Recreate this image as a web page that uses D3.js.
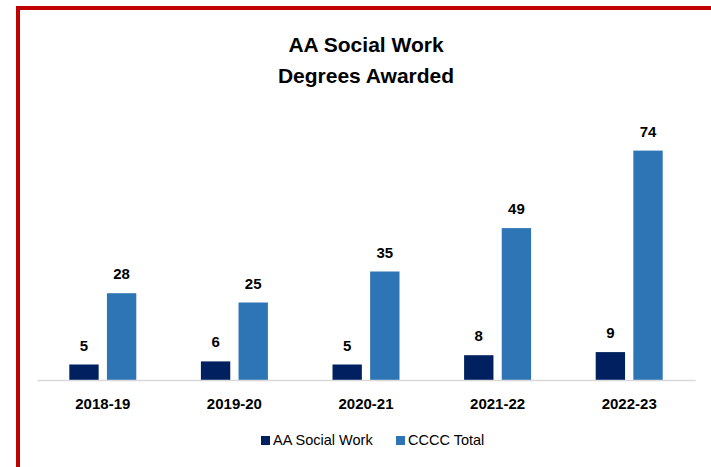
<!DOCTYPE html>
<html>
<head>
<meta charset="utf-8">
<script src="https://cdn.jsdelivr.net/npm/d3@7"></script>
<style>
  body { margin: 0; background: #fff; }
  svg text { font-family: "Liberation Sans", Arial, sans-serif; fill: #000; }
</style>
</head>
<body>
<svg id="chart" width="711" height="467"></svg>
<script>
var years = ["2018-19", "2019-20", "2020-21", "2021-22", "2022-23"];
var series = ["AA Social Work", "CCCC Total"];
var socialWork = [5, 6, 5, 8, 9];
var cccTotal = [28, 25, 35, 49, 74];

var colors = ["#002060", "#2E75B6"];

var data = years.map((y, i) => ({year: y, values: [socialWork[i], cccTotal[i]]}));

var svg = d3.select("#chart"),
    margin = {top: 132, left: 37, bottom: 87, right: 16},
    width = +svg.attr("width"),
    height = +svg.attr("height");

// red frame
svg.append("path")
    .attr("d", `M18,${height} V8 H${width}`)
    .attr("fill", "none")
    .attr("stroke", "#C00000")
    .attr("stroke-width", 4);

// title
var title = svg.append("text")
    .attr("x", 366)
    .attr("text-anchor", "middle")
    .style("font-weight", "bold")
    .style("font-size", "21px");
title.append("tspan").attr("x", 366).attr("y", 52).text("AA Social Work");
title.append("tspan").attr("x", 366).attr("y", 83).text("Degrees Awarded");

var x0 = d3.scaleBand()
    .domain(years)
    .range([margin.left, width - margin.right])
    .paddingInner(0)
    .paddingOuter(0);

var x1 = d3.scaleBand()
    .domain(series)
    .range([-33.5, 33.5])
    .paddingInner(0.22);

var y = d3.scaleLinear()
    .domain([0, 80])
    .range([height - margin.bottom, margin.top]);

var groups = svg.selectAll("g.year")
    .data(data)
    .enter().append("g")
    .attr("class", "year")
    .attr("transform", d => `translate(${x0(d.year) + x0.bandwidth() / 2},0)`);

groups.selectAll("rect")
    .data(d => d.values.map((v, i) => ({key: series[i], value: v, i: i})))
    .enter().append("rect")
    .attr("x", d => x1(d.key))
    .attr("width", x1.bandwidth())
    .attr("y", d => y(d.value))
    .attr("height", d => y(0) - y(d.value))
    .attr("fill", d => colors[d.i]);

groups.selectAll("text.val")
    .data(d => d.values.map((v, i) => ({key: series[i], value: v})))
    .enter().append("text")
    .attr("class", "val")
    .attr("x", d => x1(d.key) + x1.bandwidth() / 2)
    .attr("y", d => y(d.value) - 14)
    .attr("text-anchor", "middle")
    .style("font-weight", "bold")
    .style("font-size", "15px")
    .text(d => d.value);

// x axis
var xAxis = svg.append("g")
    .attr("transform", `translate(0,${y(0)})`)
    .call(d3.axisBottom(x0).tickSize(0).tickPadding(18).tickSizeOuter(0));

xAxis.select(".domain")
    .attr("stroke", "#D9D9D9")
    .attr("stroke-width", 1.5);

xAxis.selectAll("text")
    .style("font-family", "'Liberation Sans', Arial, sans-serif")
    .style("font-weight", "bold")
    .style("font-size", "15px")
    .attr("fill", "#000");

// legend
var legendX = [261, 396];
var legend = svg.selectAll(".legend")
    .data(series)
    .enter().append("g")
    .attr("class", "legend")
    .attr("transform", (d, i) => `translate(${legendX[i]},436)`);

legend.append("rect")
    .attr("width", 9)
    .attr("height", 9)
    .attr("fill", (d, i) => colors[i]);

legend.append("text")
    .attr("x", 12)
    .attr("y", 9)
    .style("font-size", "14.5px")
    .text(d => d);
</script>
</body>
</html>
